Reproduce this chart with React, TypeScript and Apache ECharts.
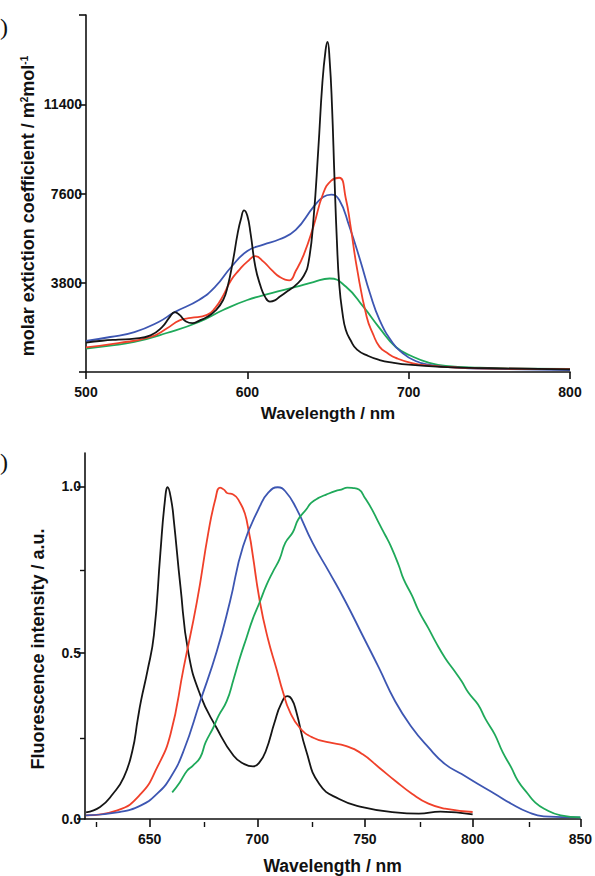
import React, { useEffect, useRef } from "react";
import * as echarts from "echarts";

// ---------- Top chart: absorption ----------
const absBlack: [number, number][] = [
  [500, 1250], [510, 1330], [520, 1380], [530, 1420], [540, 1560], [547, 1900], [552, 2350], [555, 2550],
  [558, 2430], [562, 2150], [566, 2080], [570, 2180], [575, 2340], [580, 2600], [585, 3065], [588, 3700],
  [591, 4700], [594, 5900], [596, 6500], [598, 6880], [600, 6650], [602, 5900], [605, 4470], [608, 3700],
  [611, 3200], [614, 3000], [617, 3050], [620, 3200], [625, 3450], [630, 3700], [635, 4100], [638, 4700],
  [641, 6500], [644, 9500], [646.5, 12300], [648.5, 13700], [649.7, 14050], [651, 13300], [652.5, 11300],
  [654, 8300], [655.5, 5600], [657, 3700], [659, 2500], [661, 1800], [664, 1350], [668, 950], [675, 680],
  [682, 510], [690, 400], [700, 310], [720, 220], [750, 160], [800, 110]
];
const absRed: [number, number][] = [
  [500, 1050], [520, 1230], [540, 1490], [550, 1850], [558, 2200], [565, 2300], [575, 2430], [580, 2720],
  [585, 3250], [590, 3920], [595, 4350], [600, 4700], [605, 4930], [610, 4700], [615, 4350], [620, 4050],
  [626, 3900], [630, 4300], [635, 5000], [641, 6200], [647, 7600], [652, 8150], [657, 8270], [661, 7400],
  [664, 6200], [668, 4400], [674, 2340], [678, 1600], [682, 1070], [687, 800], [692, 600], [702, 380],
  [715, 260], [730, 190], [760, 140], [800, 120]
];
const absBlue: [number, number][] = [
  [500, 1320], [515, 1490], [530, 1700], [545, 2130], [555, 2550], [570, 3065], [580, 3620], [590, 4470],
  [600, 5150], [610, 5420], [620, 5650], [630, 6050], [641, 7030], [647, 7450], [652, 7550], [657, 7320],
  [663, 6250], [670, 4750], [676, 3350], [682, 2210], [690, 1250], [696, 820], [703, 510], [713, 300],
  [730, 190], [750, 140], [800, 80]
];
const absGreen: [number, number][] = [
  [500, 1000], [515, 1120], [530, 1280], [550, 1660], [570, 2130], [585, 2640], [600, 3065], [615, 3360],
  [630, 3620], [641, 3830], [651, 3980], [661, 3640], [672, 2770], [682, 1870], [692, 1065], [703, 640],
  [713, 390], [723, 260], [744, 180], [770, 140], [800, 130]
];

// ---------- Bottom chart: fluorescence ----------
const fluBlack: [number, number][] = [
  [620.5, 0.02], [627, 0.036], [633, 0.076], [638, 0.125], [642, 0.205], [644.5, 0.3], [646, 0.355],
  [649, 0.445], [652, 0.553], [655, 0.8], [657, 0.95], [658.4, 0.997], [660, 0.96], [661.2, 0.9],
  [664.3, 0.7], [668, 0.5], [673.5, 0.373], [681, 0.275], [689, 0.19], [694, 0.165], [698, 0.158],
  [701, 0.17], [704, 0.205], [708, 0.29], [711, 0.345], [714, 0.369], [716, 0.36], [718, 0.325],
  [722.7, 0.205], [728.8, 0.105], [738, 0.06], [748.8, 0.036], [764, 0.02], [775, 0.016], [785, 0.022],
  [800, 0.014]
];
const fluRed: [number, number][] = [
  [620.5, 0.011], [635, 0.026], [646, 0.076], [653.5, 0.155], [659.7, 0.255], [665.8, 0.454],
  [672, 0.654], [677.3, 0.862], [680.5, 0.96], [682.7, 0.996], [684.5, 0.99], [686, 0.98],
  [688.8, 0.975], [691.2, 0.96], [695, 0.9], [701.2, 0.653], [705, 0.54], [708.8, 0.454],
  [712, 0.38], [715, 0.324], [719.6, 0.275], [725.7, 0.245], [733.4, 0.23], [741, 0.22],
  [748.8, 0.195], [756.5, 0.155], [764, 0.115], [771.8, 0.076], [779.5, 0.046], [787.2, 0.031],
  [800, 0.021]
];
const fluBlue: [number, number][] = [
  [620.5, 0.011], [635, 0.02], [646, 0.041], [653.5, 0.076], [659.7, 0.125], [665.8, 0.205],
  [673.5, 0.354], [681.2, 0.504], [687.3, 0.653], [693.4, 0.82], [701.2, 0.94], [705, 0.98],
  [709.5, 0.997], [713, 0.985], [718, 0.935], [725.7, 0.83], [733.4, 0.742],
  [741, 0.653], [748.8, 0.553], [756.5, 0.454], [764, 0.354], [771.8, 0.275], [779.5, 0.215],
  [787.2, 0.165], [794.9, 0.135], [802.5, 0.105], [810.2, 0.076], [817.9, 0.046], [825.6, 0.021],
  [833, 0.008], [850, 0.005]
];
const fluGreen: [number, number][] = [
  [660.5, 0.08], [664, 0.11], [667.4, 0.145], [670, 0.16], [673.5, 0.185], [676, 0.23], [679.6, 0.275],
  [682, 0.31], [685.8, 0.354], [689, 0.42], [691.9, 0.484], [695, 0.545], [698, 0.603], [701, 0.65],
  [704.2, 0.702], [707, 0.74], [710.4, 0.782], [713, 0.83], [716.5, 0.862], [719, 0.9], [722.7, 0.93],
  [725, 0.95], [728.8, 0.966], [732, 0.975], [736.5, 0.986], [739, 0.99], [741.8, 0.996], [744, 0.995],
  [747.2, 0.99], [750, 0.965], [753.3, 0.93], [756, 0.895], [759.5, 0.852], [762, 0.82], [765.7, 0.762],
  [768, 0.72], [771.8, 0.672], [775, 0.625], [779.5, 0.573], [783, 0.53], [787.2, 0.484], [791, 0.45],
  [794.9, 0.414], [798, 0.38], [802.5, 0.344], [806, 0.3], [810.2, 0.255], [814, 0.2], [817.9, 0.155],
  [821, 0.115], [825.6, 0.076], [829, 0.05], [833.2, 0.031], [840.9, 0.011], [850, 0.005]
];

const topXTicks = [500, 600, 700, 800];
const topYLabels = [3800, 7600, 11400];
const botXMajor = [650, 700, 750, 800, 850];
const botXMinor = [625, 675, 725, 775, 825];
const botYMajor = [0, 0.5, 1.0];
const botYMinor = [0.25, 0.75];

const colBlack = "#151515";
const colRed = "#f0402a";
const colBlue = "#3d56b2";
const colGreen = "#1fa95a";

const FONT = "'Liberation Sans', Arial, sans-serif";

export default function App() {
  const ref = useRef<HTMLDivElement>(null);
  useEffect(() => {
    if (!ref.current) return;
    const chart = echarts.init(ref.current, null, { renderer: "svg" });
    const axisLine = { show: true, lineStyle: { color: "#111", width: 1.6 } };
    const labelStyle = { color: "#111", fontFamily: FONT, fontWeight: "bold" as const, fontSize: 14 };
    const line = (name: string, data: [number, number][], color: string, xi: number, yi: number) => ({
      name, type: "line", data, xAxisIndex: xi, yAxisIndex: yi, showSymbol: false, symbol: "none",
      smooth: 0.5, lineStyle: { color, width: 1.8 }, itemStyle: { color }, z: 3,
    });
    chart.setOption({
      animation: false,
      backgroundColor: "#ffffff",
      grid: [
        { left: 86, top: 15, width: 484, height: 357 },
        { left: 85, top: 453, width: 498, height: 369 },
        { left: 85, top: 453, width: 498, height: 369 },
      ],
      xAxis: [
        {
          type: "value", gridIndex: 0, min: 500, max: 800, interval: 100, position: "bottom",
          axisLine, splitLine: { show: false },
          axisTick: { show: true, inside: false, length: 7, lineStyle: { color: "#111", width: 1.6 }, customValues: topXTicks },
          axisLabel: { ...labelStyle, margin: 13, customValues: topXTicks },
          name: "Wavelength / nm", nameLocation: "middle", nameGap: 33,
          nameTextStyle: { color: "#111", fontFamily: FONT, fontWeight: "bold", fontSize: 17 },
        },
        {
          type: "value", gridIndex: 1, min: 620, max: 850, position: "bottom",
          axisLine, splitLine: { show: false },
          axisTick: { show: true, length: 8, lineStyle: { color: "#111", width: 1.6 }, customValues: botXMajor },
          axisLabel: { ...labelStyle, margin: 13, customValues: botXMajor },
          name: "Wavelength / nm", nameLocation: "middle", nameGap: 38,
          nameTextStyle: { color: "#111", fontFamily: FONT, fontWeight: "bold", fontSize: 17.5 },
        },
        {
          type: "value", gridIndex: 2, min: 620, max: 850, position: "bottom",
          axisLine: { show: true, lineStyle: { color: "rgba(0,0,0,0)", width: 0 } }, splitLine: { show: false },
          axisTick: { show: true, length: 5, lineStyle: { color: "#111", width: 1.4 }, customValues: botXMinor },
          axisLabel: { show: false },
        },
      ],
      yAxis: [
        {
          type: "value", gridIndex: 0, min: 0, max: 15200, interval: 3800, position: "left",
          axisLine, splitLine: { show: false },
          axisTick: { show: true, length: 7, lineStyle: { color: "#111", width: 1.6 } },
          axisLabel: { ...labelStyle, margin: 4, customValues: topYLabels, formatter: (v: number) => String(v) },
        },
        {
          type: "value", gridIndex: 1, min: 0, max: 1.1, position: "left",
          axisLine, splitLine: { show: false },
          axisTick: { show: true, length: 8, lineStyle: { color: "#111", width: 1.6 }, customValues: botYMajor },
          axisLabel: { ...labelStyle, margin: 4, customValues: botYMajor, formatter: (v: number) => v.toFixed(1) },
        },
        {
          type: "value", gridIndex: 2, min: 0, max: 1.1, position: "left",
          axisLine: { show: true, lineStyle: { color: "rgba(0,0,0,0)", width: 0 } }, splitLine: { show: false },
          axisTick: { show: true, length: 5, lineStyle: { color: "#111", width: 1.4 }, customValues: botYMinor },
          axisLabel: { show: false },
        },
      ],
      graphic: [
        { type: "text", left: 0, top: 15, style: { text: ")", font: "24px 'Liberation Serif', serif", fill: "#111" } },
        { type: "text", left: 0, top: 450, style: { text: ")", font: "24px 'Liberation Serif', serif", fill: "#111" } },
        {
          type: "text", x: 28, y: 206, rotation: Math.PI / 2,
          style: {
            text: "molar extiction coefficient / m{s|2}mol{s|-1}",
            fill: "#111", font: `bold 18px ${FONT}`, align: "center", verticalAlign: "middle",
            rich: {
              s: { fontSize: 10, fontWeight: "bold", fontFamily: FONT, fill: "#111", verticalAlign: "top", lineHeight: 10, padding: [0, 0, 9, 0] },
            },
          },
        },
        {
          type: "text", x: 38, y: 649, rotation: Math.PI / 2,
          style: {
            text: "Fluorescence intensity / a.u.",
            fill: "#111", font: `bold 18px ${FONT}`, align: "center", verticalAlign: "middle",
          },
        },
      ],
      series: [
        line("absGreen", absGreen, colGreen, 0, 0),
        line("absBlue", absBlue, colBlue, 0, 0),
        line("absRed", absRed, colRed, 0, 0),
        line("absBlack", absBlack, colBlack, 0, 0),
        line("fluBlack", fluBlack, colBlack, 1, 1),
        line("fluRed", fluRed, colRed, 1, 1),
        line("fluBlue", fluBlue, colBlue, 1, 1),
        line("fluGreen", fluGreen, colGreen, 1, 1),
      ],
    });
    return () => chart.dispose();
  }, []);
  return <div ref={ref} style={{ position: "fixed", left: 0, top: 0, width: 595, height: 876 }} />;
}
